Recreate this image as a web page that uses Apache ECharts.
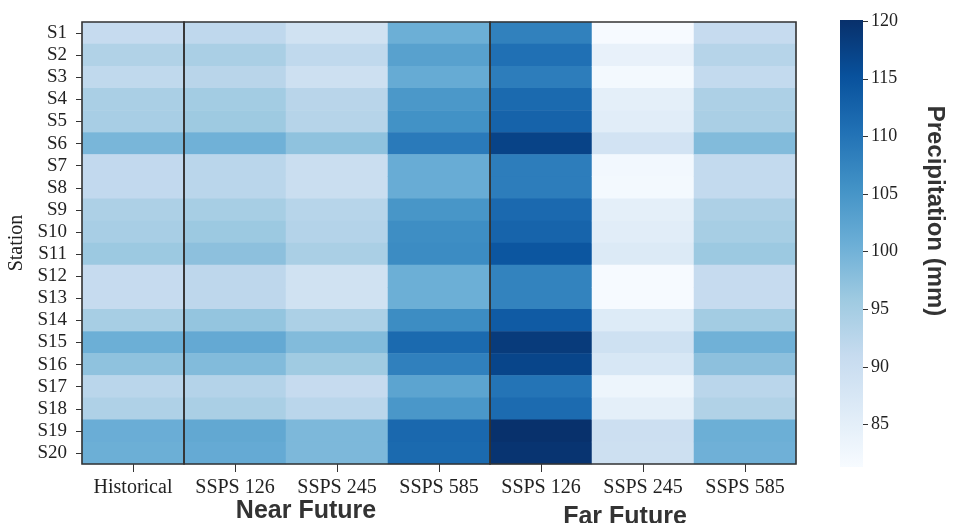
<!DOCTYPE html>
<html>
<head>
<meta charset="utf-8">
<script src="https://cdn.jsdelivr.net/npm/echarts@6/dist/echarts.min.js"></script>
<style>
  html, body { margin: 0; padding: 0; background: #ffffff; }
  #chart { width: 953px; height: 523px; }
</style>
</head>
<body>
<div id="chart"></div>
<script>
// Stations (rows) and scenarios (columns)
const stations = ['S1','S2','S3','S4','S5','S6','S7','S8','S9','S10',
                  'S11','S12','S13','S14','S15','S16','S17','S18','S19','S20'];
const scenarios = ['Historical','SSPS 126','SSPS 245','SSPS 585','SSPS 126','SSPS 245','SSPS 585'];

// Precipitation (mm) per station, one array per scenario column
const historical = [91.0,93.6,91.7,94.4,94.6,99.4,91.5,91.5,94.0,94.6,96.0,91.0,91.0,94.8,100.6,97.3,92.5,93.8,100.8,100.6];
const nearSsp126 = [91.8,94.4,92.6,95.2,95.8,100.2,92.4,92.4,94.8,96.0,97.5,92.0,92.0,96.8,101.5,98.5,93.2,94.4,101.8,101.4];
const nearSsp245 = [89.0,91.7,89.5,92.6,93.0,97.3,90.2,90.2,92.8,93.2,94.4,89.0,89.0,94.2,98.5,95.6,91.0,92.5,99.0,99.0];
const nearSsp585 = [100.6,103.0,101.3,104.5,105.5,109.1,101.0,101.0,104.8,106.2,106.5,100.6,100.6,106.3,111.5,108.2,102.5,104.6,111.8,111.5];
const farSsp126  = [108.0,110.6,108.6,111.5,112.5,117.3,108.6,108.6,111.6,112.4,114.5,107.8,107.8,113.7,118.5,117.0,110.0,111.3,120.0,119.5];
const farSsp245  = [81.5,84.3,82.0,85.0,85.5,88.6,82.2,82.0,85.0,85.5,86.5,81.5,81.5,86.3,89.3,87.5,83.2,85.0,89.8,89.6];
const farSsp585  = [91.0,93.0,91.4,94.0,94.4,98.5,91.4,91.4,94.0,94.8,96.0,91.0,91.0,95.2,100.2,97.5,92.4,93.6,100.6,100.3];

// Colour bar range and tick labels
const colorMin = 81.3;
const colorMax = 120.1;
const colorTicks = [85, 90, 95, 100, 105, 110, 115, 120];

// Framed scenario groups: [first column, last column]
const groupBoxes = [[0, 0], [1, 3], [4, 6]];

// Sequential "Blues" palette
const blues = ['#f7fbff','#deebf7','#c6dbef','#9ecae1','#6baed6','#4292c6','#2171b5','#08519c','#08306b'];

const columns = [historical, nearSsp126, nearSsp245, nearSsp585, farSsp126, farSsp245, farSsp585];
const cells = [];
columns.forEach((col, x) => col.forEach((v, y) => cells.push([x, y, v])));

const serif = 'Liberation Serif';

const chart = echarts.init(document.getElementById('chart'), null, { renderer: 'canvas' });

chart.setOption({
  backgroundColor: '#ffffff',
  animation: false,
  grid: [
    { left: 82, right: 157, top: 22, bottom: 59, containLabel: false, outerBoundsMode: 'none' },
    { left: 840, width: 23, top: 20, bottom: 56, containLabel: false, outerBoundsMode: 'none' }
  ],
  xAxis: [
    {
      gridIndex: 0,
      type: 'category',
      data: scenarios,
      axisLine: { show: false },
      axisTick: { show: true, interval: 0, alignWithLabel: true, length: 8, lineStyle: { color: '#333', width: 1 } },
      axisLabel: { interval: 0, fontFamily: serif, fontSize: 20, color: '#222', margin: 14 },
      splitLine: { show: false }
    },
    {
      gridIndex: 1,
      type: 'category',
      data: [''],
      show: false
    }
  ],
  yAxis: [
    {
      gridIndex: 0,
      type: 'category',
      data: stations,
      inverse: true,
      name: 'Station',
      nameLocation: 'middle',
      nameGap: 53,
      nameTextStyle: { fontFamily: serif, fontSize: 20, color: '#222' },
      axisLine: { show: false },
      axisTick: { show: true, interval: 0, alignWithLabel: true, length: 6, lineStyle: { color: '#333', width: 1 } },
      axisLabel: { interval: 0, fontFamily: serif, fontSize: 19, color: '#222', margin: 15 },
      splitLine: { show: false }
    },
    {
      gridIndex: 1,
      type: 'value',
      position: 'right',
      min: colorMin,
      max: colorMax,
      axisLine: { show: false },
      axisTick: { show: true, customValues: colorTicks, length: 5, lineStyle: { color: '#333', width: 1 } },
      axisLabel: { customValues: colorTicks, fontFamily: serif, fontSize: 18, color: '#222', margin: 8 },
      splitLine: { show: false }
    }
  ],
  visualMap: {
    show: false,
    type: 'continuous',
    seriesIndex: 0,
    dimension: 2,
    min: colorMin,
    max: colorMax,
    inRange: { color: blues }
  },
  series: [
    {
      type: 'heatmap',
      xAxisIndex: 0,
      yAxisIndex: 0,
      data: cells,
      itemStyle: { borderWidth: 0 },
      emphasis: { disabled: true },
      progressive: 0
    },
    {
      // frames around the historical, near-future and far-future groups
      type: 'custom',
      xAxisIndex: 0,
      yAxisIndex: 0,
      data: groupBoxes,
      silent: true,
      z: 5,
      renderItem: function (params, api) {
        const colW = api.size([1, 0])[0];
        const rowH = api.size([0, 1])[1];
        const x0 = api.coord([api.value(0), 0])[0] - colW / 2;
        const x1 = api.coord([api.value(1), 0])[0] + colW / 2;
        const y0 = api.coord([0, 0])[1] - rowH / 2;
        const y1 = api.coord([0, stations.length - 1])[1] + rowH / 2;
        return {
          type: 'rect',
          shape: { x: x0, y: y0, width: x1 - x0, height: y1 - y0 },
          style: { fill: 'none', stroke: '#333', lineWidth: 1.6 }
        };
      }
    },
    {
      // colour bar
      type: 'custom',
      xAxisIndex: 1,
      yAxisIndex: 1,
      data: [[0, colorMin, colorMax]],
      silent: true,
      renderItem: function (params, api) {
        const w = api.size([1, 0])[0];
        const pBottom = api.coord([0, api.value(1)]);
        const pTop = api.coord([0, api.value(2)]);
        const stops = blues.map((c, i) => ({ offset: i / (blues.length - 1), color: c }));
        return {
          type: 'rect',
          shape: { x: pBottom[0] - w / 2, y: pTop[1], width: w, height: pBottom[1] - pTop[1] },
          style: { fill: new echarts.graphic.LinearGradient(0, 1, 0, 0, stops) }
        };
      }
    }
  ],
  graphic: [
    {
      type: 'text',
      x: 306, y: 499,
      style: { text: 'Near Future', font: 'bold 25px "Liberation Sans"', fill: '#333', align: 'center', verticalAlign: 'top' }
    },
    {
      type: 'text',
      x: 625, y: 505,
      style: { text: 'Far Future', font: 'bold 25px "Liberation Sans"', fill: '#333', align: 'center', verticalAlign: 'top' }
    },
    {
      type: 'text',
      x: 935, y: 211,
      rotation: -Math.PI / 2,
      style: { text: 'Precipitation (mm)', font: 'bold 24px "Liberation Sans"', fill: '#333', align: 'center', verticalAlign: 'middle' }
    }
  ]
});
</script>
</body>
</html>
